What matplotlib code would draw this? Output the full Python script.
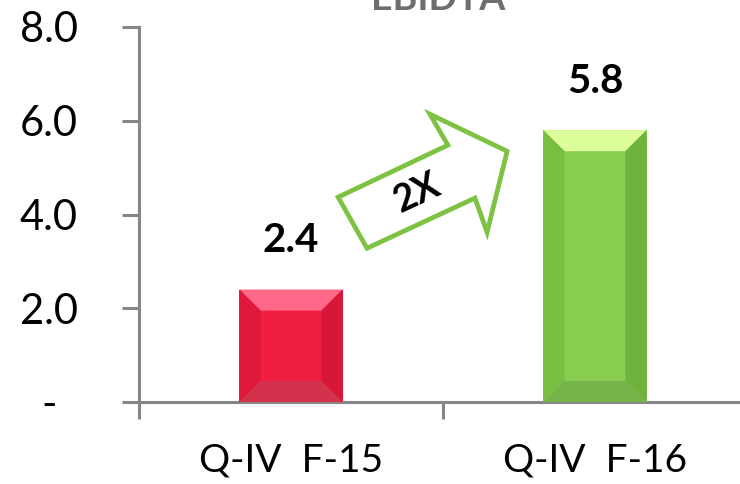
import matplotlib.pyplot as plt
from matplotlib.patches import Polygon

# data
categories = ['Q-IV  F-15', 'Q-IV  F-16']
ebidta = [2.4, 5.8]
value_labels = ['2.4', '5.8']
y_ticks = [0, 2, 4, 6, 8]
y_tick_labels = ['-', '2.0', '4.0', '6.0', '8.0']

# bevel colours per bar: front, top, left, right, bottom
bar_faces = [
    ['#F01F41', '#FF6987', '#E0193C', '#D71737', '#D2324B'],
    ['#88CC50', '#DCFF9B', '#78BE41', '#70B23E', '#76B44B'],
]

# "2X" arrow outline in data coordinates
arrow_x = [0.155, 0.516, 0.457, 0.711, 0.645, 0.605, 0.250]
arrow_y = [4.37, 5.48, 6.14, 5.35, 3.62, 4.35, 3.28]

axis_grey = '#868686'
plt.rcParams['font.family'] = ['Lato', 'DejaVu Sans']

fig = plt.figure(figsize=(7.4, 4.84), dpi=100)
ax = fig.add_axes([139 / 740, 82 / 484, 608 / 740, 375 / 484])

x = list(range(len(categories)))
w = 0.34
bx, by = 0.07, 0.45

bars = ax.bar(x, ebidta, width=w, color=[f[0] for f in bar_faces], zorder=3)

for rect, faces in zip(bars, bar_faces):
    x0 = rect.get_x()
    x1 = x0 + rect.get_width()
    h = rect.get_height()
    top = [(x0, h), (x1, h), (x1 - bx, h - by), (x0 + bx, h - by)]
    left = [(x0, 0), (x0 + bx, by), (x0 + bx, h - by), (x0, h)]
    right = [(x1, 0), (x1 - bx, by), (x1 - bx, h - by), (x1, h)]
    bottom = [(x0, 0), (x1, 0), (x1 - bx, by), (x0 + bx, by)]
    for pts, col in zip([top, left, right, bottom], faces[1:]):
        ax.add_patch(Polygon(pts, closed=True, facecolor=col, edgecolor='none', zorder=3))

for xi, v, lab in zip(x, ebidta, value_labels):
    ax.annotate(lab, (xi, v), xytext=(0, 22), textcoords='offset points',
                ha='center', va='bottom', fontsize=29, fontweight='bold', color='black')

ax.add_patch(Polygon(list(zip(arrow_x, arrow_y)), closed=True, facecolor='white',
                     edgecolor='#7DC242', linewidth=3.4, zorder=4))
ax.text(0.414, 4.46, '2X', rotation=25, ha='center', va='center', fontsize=27,
        fontweight='bold', color='black', zorder=5)

ax.set_xlim(-0.5, 1.5)
ax.set_ylim(0, 8)

for side in ['top', 'right']:
    ax.spines[side].set_visible(False)
for side in ['left', 'bottom']:
    ax.spines[side].set_color(axis_grey)
    ax.spines[side].set_linewidth(2.2)

ax.set_yticks(y_ticks)
ax.set_yticklabels(y_tick_labels)
ax.tick_params(axis='y', direction='out', length=12, width=2.2, color=axis_grey,
               labelsize=30, pad=53)
for t in ax.get_yticklabels():
    t.set_ha('center')

ax.set_xticks([-0.5, 0.5, 1.5])
ax.set_xticklabels([])
ax.set_xticks(x, minor=True)
ax.set_xticklabels(categories, minor=True)
ax.tick_params(axis='x', which='major', direction='out', length=12, width=2.2, color=axis_grey)
ax.tick_params(axis='x', which='minor', length=0, labelsize=28, pad=29)

fig.text(438 / 740, 1 - 10 / 484, 'EBIDTA', ha='center', va='baseline', fontsize=27,
         fontweight='bold', color='#6D6E71')

fig.savefig('out.png', dpi=100)
